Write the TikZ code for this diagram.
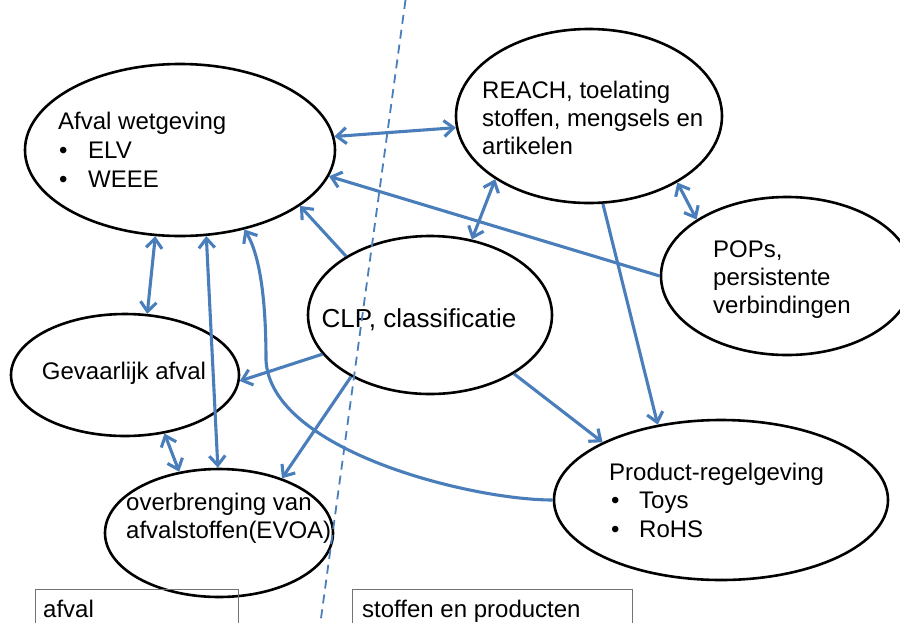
\documentclass[tikz,border=0pt]{standalone}
\usepackage{fontspec}
\setmainfont{Liberation Sans}
\usepackage{xcolor}
\usetikzlibrary{arrows.meta,shapes.geometric}
\definecolor{linkblue}{HTML}{4A7EBB}

\begin{document}
\begin{tikzpicture}[x=1pt, y=-1pt, every node/.style={font=\fontsize{24}{28.8}\selectfont}, topic/.style={draw=black,line width=2.6pt,ellipse,inner sep=0pt}, txt/.style={inner sep=0pt,anchor=base west}, link/.style={draw=linkblue,line width=3.1pt,-{Straight Barb[length=9.5pt,width=16pt]}}, twoway/.style={link,{Straight Barb[length=9.5pt,width=16pt]}-{Straight Barb[length=9.5pt,width=16pt]}}, areabox/.style={draw=black!55,line width=1pt}]
    \useasboundingbox (0,0) rectangle (900,622);
    \foreach \name/\x/\y/\w/\h in {afw/180/150/310/172,reach/589/116/266/174,pops/787/276/252/158,clp/430/315/244/158,gev/125/375/228/122,ovb/219/533/228/128,prod/721/500/334/160}{
      \node[topic,minimum width=\w pt,minimum height=\h pt] (\name) at (\x,\y) {};
    }
    \node[txt] (afw-t) at (58,129) {Afval wetgeving};
    \foreach \t [count=\i] in {ELV,WEEE}{
      \node[txt] (afw-b\i) at (59,{129+29*\i}) {\makebox[29pt][l]{•}\t};
    }
    \foreach \t [count=\i from 0] in {{REACH, toelating},{stoffen, mengsels en},artikelen}{
      \node[txt] (reach-t\i) at (482,{98+28*\i}) {\t};
    }
    \foreach \t [count=\i from 0] in {{POPs,},persistente,verbindingen}{
      \node[txt] (pops-t\i) at (713,{257+28*\i}) {\t};
    }
    \node[txt,anchor=base,font=\fontsize{26}{31}\selectfont] (clp-t) at (419,327) {CLP, classificatie};
    \node[txt,anchor=base] (gev-t) at (124,379) {Gevaarlijk afval};
    \foreach \t [count=\i from 0] in {overbrenging van,afvalstoffen(EVOA)}{
      \node[txt] (ovb-t\i) at (126,{510+28*\i}) {\t};
    }
    \node[txt] (prod-t) at (609,480) {Product-regelgeving};
    \foreach \t [count=\i] in {Toys,RoHS}{
      \node[txt] (prod-b\i) at (611,{480+28.5*\i}) {\makebox[28pt][l]{•}\t};
    }
    \draw[areabox] (35,589) rectangle (238,640);
    \draw[areabox] (352,589) rectangle (632,640);
    \node[txt] (waste-t) at (43,617) {afval};
    \node[txt] (goods-t) at (362,617) {stoffen en producten};
    \coordinate (cut-top) at (405.5,0);
    \coordinate (cut-bot) at (320.5,622);
    \draw[linkblue,line width=1.8pt,dash pattern=on 9pt off 6pt] (cut-top) -- (cut-bot);
    \draw[twoway] (afw.5) -- (reach.185);
    \draw[link] (pops.180) -- (afw.-10);
    \draw[link] (clp.145) -- (afw.-25);
    \draw[twoway] (reach.214) -- (clp.61);
    \draw[twoway] (reach.-37) -- (pops.148);
    \draw[link] (reach.-81) -- (prod.130);
    \draw[link] (clp.-35) -- (prod.154);
    \draw[link] (clp.200) -- (gev.-3);
    \draw[link] (clp.218) -- (ovb.41);
    \draw[twoway] (afw.-106) -- (gev.70);
    \draw[twoway] (afw.-73) -- (ovb.91);
    \draw[twoway] (gev.-56) -- (ovb.123);
    \draw[link] (prod.west) .. controls (470,500) and (270,450) .. (266,360) .. controls (266,300) and (260,255) .. (afw.-51);
\end{tikzpicture}
\end{document}
